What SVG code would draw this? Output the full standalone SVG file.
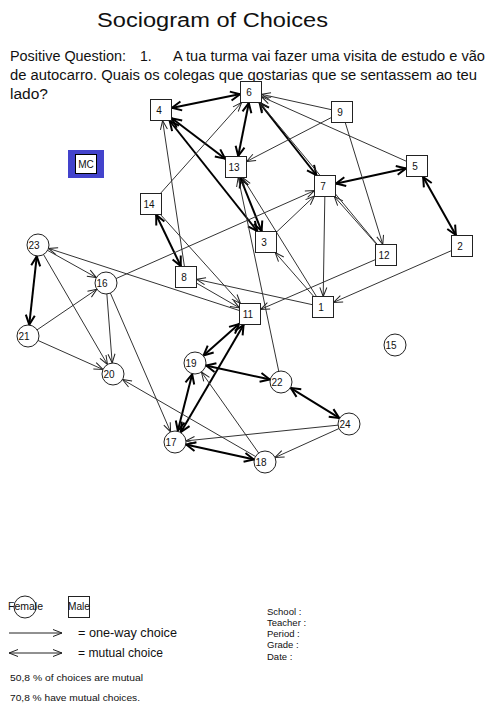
<svg xmlns="http://www.w3.org/2000/svg" width="490" height="707" viewBox="0 0 490 707">
<style>
text{font-family:"Liberation Sans",Arial,sans-serif;fill:#111}
.t{stroke:#333;stroke-width:1;fill:none;marker-end:url(#a)}
.k{stroke:#000;stroke-width:2;fill:none;marker-start:url(#m);marker-end:url(#m)}
.sq{fill:#fff;stroke:#222;stroke-width:1}
.ci{fill:#fff;stroke:#222;stroke-width:1}
.lb{font-size:10px;text-anchor:middle}
.q{font-size:14px}
.sm{font-size:9.5px}
</style>
<defs>
<marker id="a" viewBox="-11 -5 12 10" markerWidth="12" markerHeight="10" refX="0" refY="0" orient="auto-start-reverse" markerUnits="userSpaceOnUse"><path d="M-9,-3.5 L0,0 L-9,3.5" fill="none" stroke="#222" stroke-width="1"/></marker>
<marker id="m" viewBox="-13 -6 14 12" markerWidth="14" markerHeight="12" refX="0" refY="0" orient="auto-start-reverse" markerUnits="userSpaceOnUse"><path d="M-10,-4.5 L-0.5,0 L-10,4.5" fill="none" stroke="#000" stroke-width="2"/></marker>
</defs>
<rect width="490" height="707" fill="#fff"/>
<text x="97" y="27" font-size="20" textLength="231" lengthAdjust="spacingAndGlyphs">Sociogram of Choices</text>
<text class="q" x="10" y="61" textLength="116" lengthAdjust="spacingAndGlyphs">Positive Question:</text>
<text class="q" x="140" y="61">1.</text>
<text class="q" x="173" y="61" textLength="312" lengthAdjust="spacingAndGlyphs">A tua turma vai fazer uma visita de estudo e vão</text>
<text class="q" x="10" y="80" textLength="467" lengthAdjust="spacingAndGlyphs">de autocarro. Quais os colegas que gostarias que se sentassem ao teu</text>
<text class="q" x="10" y="99" textLength="38" lengthAdjust="spacingAndGlyphs">lado?</text>
<g id="connectors">
<line class="k" x1="171.5" y1="107.9" x2="240.5" y2="94.1"/>
<line class="k" x1="248.9" y1="102.5" x2="238.1" y2="156.5"/>
<line class="k" x1="171.5" y1="118" x2="225.5" y2="159"/>
<line class="k" x1="169.4" y1="120.5" x2="257.6" y2="231.5"/>
<line class="k" x1="240.2" y1="177.5" x2="261.8" y2="231.5"/>
<line class="k" x1="259.3" y1="102.5" x2="316.7" y2="175.5"/>
<line class="k" x1="335.5" y1="183.7" x2="406.5" y2="168.3"/>
<line class="k" x1="422.9" y1="176.5" x2="456.1" y2="235.5"/>
<line class="k" x1="156" y1="214.5" x2="181" y2="266.5"/>
<line class="k" x1="36.8" y1="255.9" x2="29.2" y2="325.1"/>
<line class="k" x1="203.2" y1="355.7" x2="239.5" y2="323.6"/>
<line class="k" x1="180.6" y1="432.5" x2="243.8" y2="324.5"/>
<line class="k" x1="192.3" y1="373.7" x2="177.7" y2="431.3"/>
<line class="k" x1="205.7" y1="365.4" x2="270.3" y2="379.6"/>
<line class="k" x1="290.4" y1="387.8" x2="339.6" y2="418.2"/>
<line class="k" x1="185.7" y1="444.4" x2="254.3" y2="459.6"/>
<line class="t" x1="342" y1="112" x2="261.5" y2="94.3"/>
<line class="t" x1="417" y1="166" x2="261.5" y2="96.7"/>
<line class="t" x1="342" y1="112" x2="246.5" y2="161.5"/>
<line class="t" x1="342" y1="112" x2="382.8" y2="244.5"/>
<line class="t" x1="386" y1="255" x2="334.3" y2="196.5"/>
<line class="t" x1="386" y1="255" x2="259.7" y2="102.5"/>
<line class="t" x1="462" y1="246" x2="333.5" y2="302.4"/>
<line class="t" x1="386" y1="255" x2="260.5" y2="309.4"/>
<line class="t" x1="325" y1="186" x2="323.2" y2="296.5"/>
<line class="t" x1="266" y1="242" x2="314.5" y2="196"/>
<line class="t" x1="106" y1="283" x2="314.5" y2="190.6"/>
<line class="t" x1="323" y1="307" x2="275.2" y2="252.5"/>
<line class="t" x1="323" y1="307" x2="242.5" y2="177.5"/>
<line class="t" x1="281" y1="382" x2="238.2" y2="177.5"/>
<line class="t" x1="151" y1="204" x2="241.6" y2="102.5"/>
<line class="t" x1="186" y1="277" x2="162.6" y2="120.5"/>
<line class="t" x1="151" y1="204" x2="240.5" y2="303.5"/>
<line class="t" x1="186" y1="277" x2="239.5" y2="307.9"/>
<line class="t" x1="323" y1="307" x2="196.5" y2="279.3"/>
<line class="t" x1="250" y1="314" x2="48.5" y2="248.4"/>
<line class="t" x1="38" y1="245" x2="96.4" y2="277.6"/>
<line class="t" x1="28" y1="336" x2="96.9" y2="289.2"/>
<line class="t" x1="106" y1="283" x2="112.2" y2="363"/>
<line class="t" x1="106" y1="283" x2="170.6" y2="431.9"/>
<line class="t" x1="28" y1="336" x2="103" y2="369.5"/>
<line class="t" x1="38" y1="245" x2="107.5" y2="364.5"/>
<line class="t" x1="265" y1="462" x2="122.5" y2="379.5"/>
<line class="t" x1="265" y1="462" x2="201.4" y2="372"/>
<line class="t" x1="349" y1="424" x2="185.9" y2="440.9"/>
<line class="t" x1="349" y1="424" x2="275" y2="457.5"/>
</g>
<g id="n6"><rect class="sq" x="240.5" y="81.5" width="21" height="21"/><text class="lb" x="249" y="95.5">6</text></g>
<g id="n4"><rect class="sq" x="150.5" y="99.5" width="21" height="21"/><text class="lb" x="159" y="113.5">4</text></g>
<g id="n13"><rect class="sq" x="225.5" y="156.5" width="21" height="21"/><text class="lb" x="234" y="170.5">13</text></g>
<g id="n9"><rect class="sq" x="331.5" y="101.5" width="21" height="21"/><text class="lb" x="340" y="115.5">9</text></g>
<g id="n5"><rect class="sq" x="406.5" y="155.5" width="21" height="21"/><text class="lb" x="415" y="169.5">5</text></g>
<g id="n7"><rect class="sq" x="314.5" y="175.5" width="21" height="21"/><text class="lb" x="323" y="189.5">7</text></g>
<g id="n14"><rect class="sq" x="140.5" y="193.5" width="21" height="21"/><text class="lb" x="149" y="207.5">14</text></g>
<g id="n3"><rect class="sq" x="255.5" y="231.5" width="21" height="21"/><text class="lb" x="264" y="245.5">3</text></g>
<g id="n2"><rect class="sq" x="451.5" y="235.5" width="21" height="21"/><text class="lb" x="460" y="249.5">2</text></g>
<g id="n12"><rect class="sq" x="375.5" y="244.5" width="21" height="21"/><text class="lb" x="384" y="258.5">12</text></g>
<g id="n8"><rect class="sq" x="175.5" y="266.5" width="21" height="21"/><text class="lb" x="184" y="280.5">8</text></g>
<g id="n1"><rect class="sq" x="312.5" y="296.5" width="21" height="21"/><text class="lb" x="321" y="310.5">1</text></g>
<g id="n11"><rect class="sq" x="239.5" y="303.5" width="21" height="21"/><text class="lb" x="248" y="317.5">11</text></g>
<g id="n23"><circle class="ci" cx="38" cy="245" r="11"/><text class="lb" x="34" y="249">23</text></g>
<g id="n16"><circle class="ci" cx="106" cy="283" r="11"/><text class="lb" x="102" y="287">16</text></g>
<g id="n21"><circle class="ci" cx="28" cy="336" r="11"/><text class="lb" x="24" y="340">21</text></g>
<g id="n20"><circle class="ci" cx="113" cy="374" r="11"/><text class="lb" x="109" y="378">20</text></g>
<g id="n19"><circle class="ci" cx="195" cy="363" r="11"/><text class="lb" x="191" y="367">19</text></g>
<g id="n22"><circle class="ci" cx="281" cy="382" r="11"/><text class="lb" x="277" y="386">22</text></g>
<g id="n24"><circle class="ci" cx="349" cy="424" r="11"/><text class="lb" x="345" y="428">24</text></g>
<g id="n17"><circle class="ci" cx="175" cy="442" r="11"/><text class="lb" x="171" y="446">17</text></g>
<g id="n18"><circle class="ci" cx="265" cy="462" r="11"/><text class="lb" x="261" y="466">18</text></g>
<g id="n15"><circle class="ci" cx="395" cy="345" r="11"/><text class="lb" x="391" y="349">15</text></g>
<g id="MC"><rect x="68" y="150" width="36" height="28" fill="#4343cc"/><rect x="75.5" y="154.5" width="21" height="19" fill="#fff" stroke="#000" stroke-width="1"/><text x="86" y="168" font-size="10" text-anchor="middle">MC</text></g>
<g id="legend">
<circle class="ci" cx="25" cy="607" r="11" fill="none"/>
<text x="8" y="610" font-size="10" textLength="35" lengthAdjust="spacingAndGlyphs">Female</text>
<rect class="sq" x="68.5" y="596.5" width="21" height="21"/>
<text x="68" y="610" font-size="10" textLength="22" lengthAdjust="spacingAndGlyphs">Male</text>
<line x1="9" y1="633" x2="62" y2="633" stroke="#222" stroke-width="1" marker-end="url(#a)"/>
<line x1="9" y1="653" x2="62" y2="653" stroke="#222" stroke-width="1" marker-start="url(#a)" marker-end="url(#a)"/>
<text x="78" y="637" font-size="12.5" textLength="99" lengthAdjust="spacingAndGlyphs">= one-way choice</text>
<text x="78" y="657" font-size="12.5" textLength="85" lengthAdjust="spacingAndGlyphs">= mutual choice</text>
<text class="sm" x="10" y="681" textLength="133" lengthAdjust="spacingAndGlyphs">50,8 % of choices are mutual</text>
<text class="sm" x="10" y="701" textLength="130" lengthAdjust="spacingAndGlyphs">70,8 % have mutual choices.</text>
</g>
<g id="info" class="sm">
<text x="267" y="615">School  :</text>
<text x="267" y="626">Teacher :</text>
<text x="267" y="637">Period :</text>
<text x="267" y="648">Grade :</text>
<text x="267" y="660">Date :</text>
</g>
</svg>
